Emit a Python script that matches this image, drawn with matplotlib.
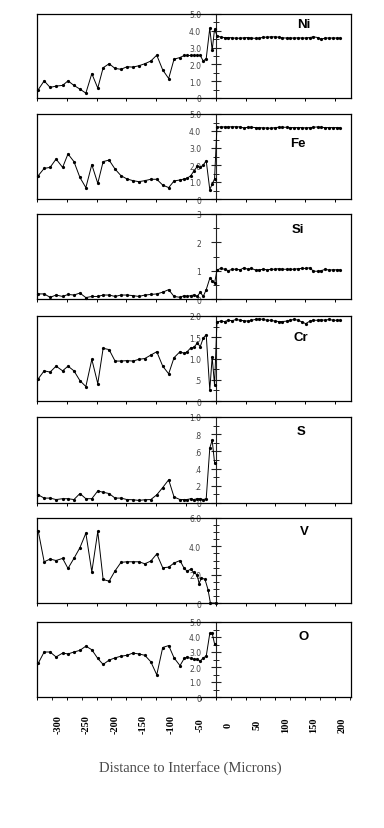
import matplotlib
matplotlib.use('Agg')
import matplotlib.pyplot as plt
from matplotlib.ticker import MultipleLocator, FixedLocator, FixedFormatter

# ---- data (microns, concentration) ----
x_left = [-298, -288, -278, -268, -257, -248, -238, -228, -218, -208, -198, -189,
          -179, -169, -159, -149, -139, -129, -119, -109, -99, -89, -79, -70,
          -60, -53, -48, -42, -37, -31, -26, -21, -16, -10, -6, -2]
x_right = [2, 8, 15, 21, 28, 34, 41, 47, 54, 60, 67, 73, 80, 86, 93, 99, 106,
           112, 119, 125, 132, 138, 145, 151, 158, 164, 171, 177, 184, 190, 197,
           203, 209]
x_v = [-298, -288, -278, -268, -257, -248, -238, -228, -218, -208, -198, -189,
       -179, -169, -159, -149, -139, -129, -119, -109, -99, -89, -79, -70,
       -60, -53, -48, -42, -37, -31, -28, -24, -18, -13, -9, 1]

ni_left = [0.49, 1.02, 0.63, 0.71, 0.75, 1.02, 0.75, 0.53, 0.29, 1.45, 0.59, 1.80,
           2.04, 1.76, 1.71, 1.86, 1.84, 1.92, 2.04, 2.20, 2.55, 1.67, 1.16, 2.31,
           2.41, 2.53, 2.53, 2.53, 2.53, 2.53, 2.53, 2.20, 2.35, 4.16, 2.84, 4.10]
ni_right = [3.72, 3.62, 3.60, 3.60, 3.58, 3.56, 3.56, 3.58, 3.60, 3.57, 3.55, 3.56,
            3.62, 3.62, 3.64, 3.64, 3.62, 3.58, 3.57, 3.57, 3.57, 3.58, 3.57, 3.57,
            3.60, 3.64, 3.60, 3.50, 3.57, 3.57, 3.57, 3.57, 3.57]
fe_left = [1.37, 1.80, 1.86, 2.35, 1.86, 2.65, 2.20, 1.27, 0.67, 2.02, 0.92, 2.20,
           2.29, 1.76, 1.37, 1.18, 1.08, 1.02, 1.08, 1.16, 1.16, 0.82, 0.67, 1.06,
           1.12, 1.18, 1.22, 1.37, 1.63, 1.92, 1.86, 2.00, 2.25, 0.55, 0.88, 1.18]
fe_right = [4.22, 4.24, 4.24, 4.24, 4.25, 4.25, 4.24, 4.18, 4.22, 4.22, 4.20, 4.20,
            4.18, 4.18, 4.16, 4.20, 4.22, 4.22, 4.22, 4.20, 4.20, 4.20, 4.20, 4.18,
            4.20, 4.22, 4.24, 4.22, 4.20, 4.20, 4.20, 4.20, 4.20]
si_left = [0.18, 0.18, 0.06, 0.14, 0.09, 0.16, 0.14, 0.21, 0.05, 0.09, 0.09, 0.14,
           0.14, 0.09, 0.14, 0.14, 0.12, 0.09, 0.14, 0.16, 0.18, 0.24, 0.33, 0.09,
           0.06, 0.12, 0.09, 0.12, 0.14, 0.09, 0.24, 0.09, 0.33, 0.73, 0.65, 0.55]
si_right = [1.02, 1.08, 1.05, 1.00, 1.05, 1.05, 1.03, 1.10, 1.05, 1.08, 1.02, 1.03,
            1.05, 1.03, 1.05, 1.05, 1.07, 1.05, 1.05, 1.05, 1.05, 1.07, 1.08, 1.08,
            1.10, 0.98, 0.98, 1.00, 1.05, 1.02, 1.03, 1.03, 1.03]
cr_left = [0.52, 0.71, 0.68, 0.82, 0.71, 0.82, 0.71, 0.48, 0.34, 0.98, 0.41, 1.24,
           1.21, 0.94, 0.94, 0.95, 0.94, 0.98, 1.00, 1.08, 1.16, 0.82, 0.64, 1.02,
           1.16, 1.12, 1.16, 1.25, 1.26, 1.36, 1.28, 1.48, 1.56, 0.25, 1.04, 0.37]
cr_right = [1.86, 1.88, 1.87, 1.90, 1.89, 1.92, 1.90, 1.89, 1.88, 1.90, 1.92, 1.93,
            1.92, 1.90, 1.90, 1.88, 1.87, 1.87, 1.88, 1.90, 1.92, 1.90, 1.86, 1.82,
            1.88, 1.90, 1.90, 1.91, 1.90, 1.92, 1.90, 1.90, 1.90]
s_left = [0.095, 0.057, 0.057, 0.04, 0.05, 0.05, 0.04, 0.11, 0.05, 0.05, 0.14, 0.125,
          0.11, 0.057, 0.057, 0.04, 0.038, 0.03, 0.038, 0.04, 0.095, 0.18, 0.27, 0.07,
          0.04, 0.04, 0.04, 0.05, 0.04, 0.05, 0.05, 0.04, 0.05, 0.64, 0.73, 0.47]
v_left = [5.1, 2.91, 3.1, 3.0, 3.15, 2.44, 3.15, 3.9, 4.93, 2.2, 5.05, 1.66,
          1.54, 2.27, 2.87, 2.91, 2.91, 2.91, 2.77, 2.96, 3.46, 2.49, 2.53, 2.82,
          3.0, 2.44, 2.25, 2.39, 2.16, 1.97, 1.37, 1.78, 1.66, 0.95, 0.0, 0.0]
o_left = [2.24, 3.0, 3.0, 2.67, 2.93, 2.87, 3.0, 3.11, 3.39, 3.15, 2.57, 2.17,
          2.46, 2.61, 2.72, 2.78, 2.93, 2.87, 2.78, 2.35, 1.48, 3.30, 3.43, 2.61,
          2.09, 2.57, 2.67, 2.57, 2.52, 2.52, 2.39, 2.61, 2.72, 4.24, 4.26, 3.54]

elements = ["Ni", "Fe", "Si", "Cr", "S", "V", "O"]
x_ticks = [-300, -250, -200, -150, -100, -50, 0, 50, 100, 150, 200]
x_ticklabels = ["-300", "-250", "-200", "-150", "-100", "-50", "0", "50", "100", "150", "200"]
xlabel = "Distance to Interface (Microns)"

panels = [
    dict(name="Ni", x=x_left + x_right, y=ni_left + ni_right, ymax=5.0,
         yt=[0, 1, 2, 3, 4, 5], ytl=["0", "1.0", "2.0", "3.0", "4.0", "5.0"], minor=0.5,
         px=(15, 99), lab=(0.85, 0.88)),
    dict(name="Fe", x=x_left + x_right, y=fe_left + fe_right, ymax=5.0,
         yt=[0, 1, 2, 3, 4, 5], ytl=["0", "1.0", "2.0", "3.0", "4.0", "5.0"], minor=0.5,
         px=(115, 200), lab=(0.83, 0.66)),
    dict(name="Si", x=x_left + x_right, y=si_left + si_right, ymax=3.0,
         yt=[0, 1, 2, 3], ytl=["0", "1", "2", "3"], minor=0.5,
         px=(215, 300), lab=(0.83, 0.82)),
    dict(name="Cr", x=x_left + x_right, y=cr_left + cr_right, ymax=2.0,
         yt=[0, 0.5, 1.0, 1.5, 2.0], ytl=["0", ".5", "1.0", "1.5", "2.0"], minor=0.25,
         px=(317, 402), lab=(0.84, 0.75)),
    dict(name="S", x=x_left, y=s_left, ymax=1.0,
         yt=[0, 0.2, 0.4, 0.6, 0.8, 1.0], ytl=["0", ".2", ".4", ".6", ".8", "1.0"], minor=0.1,
         px=(418, 504), lab=(0.84, 0.84)),
    dict(name="V", x=x_v, y=v_left, ymax=6.0,
         yt=[0, 2, 4, 6], ytl=["0", "2.0", "4.0", "6.0"], minor=0.5,
         px=(519, 604), lab=(0.85, 0.85)),
    dict(name="O", x=x_left, y=o_left, ymax=5.0,
         yt=[0, 1, 2, 3, 4, 5], ytl=["0", "1.0", "2.0", "3.0", "4.0", "5.0"], minor=0.5,
         px=(623, 698), lab=(0.85, 0.81)),
]

W, H = 384, 829
fig = plt.figure(figsize=(W / 100, H / 100), dpi=100)
fig.patch.set_facecolor("white")

left_px, right_px = 37, 351
xmin, xmax = -300, 227

for p in panels:
    top, bot = p["px"]
    ax = fig.add_axes([left_px / W, 1 - bot / H, (right_px - left_px) / W, (bot - top) / H])
    ax.plot(p["x"], p["y"], color="black", lw=0.7, marker="o", ms=1.3,
            mec="black", mfc="black", clip_on=False, zorder=3)
    ax.set_xlim(xmin, xmax)
    ax.set_ylim(0, p["ymax"])
    # y axis placed at the interface (x = 0)
    ax.spines["left"].set_position(("data", 0))
    ax.spines["left"].set_color("#222222")
    ax.spines["left"].set_linewidth(0.8)
    for s in ["top", "right", "bottom"]:
        ax.spines[s].set_linewidth(0.9)
    ax.plot([0, 0], [0, 1], transform=ax.transAxes, color="black", lw=0.9, clip_on=False)
    ax.yaxis.set_major_locator(FixedLocator(p["yt"]))
    ax.yaxis.set_major_formatter(FixedFormatter(p["ytl"]))
    ax.yaxis.set_minor_locator(MultipleLocator(p["minor"]))
    ax.tick_params(axis="y", which="major", direction="inout", length=7, width=0.8,
                   pad=7, labelsize=5.5, labelcolor="#444444", color="#222222")
    ax.tick_params(axis="y", which="minor", direction="inout", length=5, width=0.7,
                   color="#222222")
    ax.xaxis.set_major_locator(FixedLocator(x_ticks))
    if p["name"] == "O":
        ax.xaxis.set_minor_locator(MultipleLocator(25))
        ax.tick_params(axis="x", which="minor", direction="out", length=2.5, width=0.6)
    ax.tick_params(axis="x", which="major", direction="out", length=2.5, width=0.7,
                   labelbottom=False)
    ax.text(p["lab"][0], p["lab"][1], p["name"], transform=ax.transAxes,
            ha="center", va="center", fontsize=9.5, fontweight="bold",
            family="Liberation Sans")

# tick label strip (offset from the tick marks as in the original)
lab_ax = fig.add_axes([58 / W, 1 - 725 / H, (342 - 58) / W, 1 / H])
lab_ax.set_xlim(-300, 200)
lab_ax.set_xticks(x_ticks)
lab_ax.set_xticklabels(x_ticklabels, rotation=90, fontsize=7.5, fontweight="bold",
                       family="Liberation Serif", va="center")
lab_ax.tick_params(axis="x", length=0, pad=0)
lab_ax.set_yticks([])
for s in lab_ax.spines.values():
    s.set_visible(False)
lab_ax.patch.set_alpha(0)

fig.text(190 / W, 1 - 768 / H, xlabel, ha="center", va="center", fontsize=10.5,
         family="Liberation Serif", color="#4a4a4a")

fig.savefig("out.png", dpi=100, facecolor="white")
